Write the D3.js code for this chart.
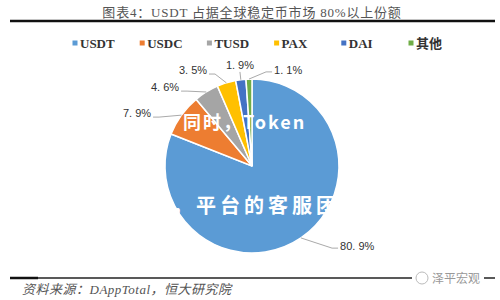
<!DOCTYPE html>
<html><head><meta charset="utf-8">
<script src="https://cdn.jsdelivr.net/npm/d3@7"></script>
<style>body{margin:0;background:#fff}svg{display:block}</style>
</head><body>
<svg id="c" width="500" height="300"></svg>
<script>
const categories = ["USDT", "USDC", "TUSD", "PAX", "DAI", "其他"];
const shares = [80.9, 7.9, 4.6, 3.5, 1.9, 1.1];
const colors = ["#5B9BD5", "#ED7D31", "#A5A5A5", "#FFC000", "#4472C4", "#70AD47"];
const titleText = "图表4：USDT 占据全球稳定币市场 80%以上份额";
const sourceText = "资料来源：DAppTotal，恒大研究院";

const svg = d3.select("#c");
const cx = 252, cy = 166, r = 87;

// title
svg.append("text").attr("x", 252).attr("y", 17).attr("text-anchor", "middle")
  .attr("font-family", "'Liberation Serif','Noto Sans CJK SC',serif").attr("font-size", 13)
  .attr("letter-spacing", 0.8).attr("fill", "#555").text(titleText);
svg.append("line").attr("x1", 10).attr("x2", 495).attr("y1", 21).attr("y2", 21)
  .attr("stroke", "#111").attr("stroke-width", 2.5);

// legend
const legendX = d3.scalePoint().domain(categories).range([75, 411]);
const lg = svg.append("g").selectAll("g").data(categories).join("g")
  .attr("transform", d => `translate(${legendX(d)},43)`);
lg.append("rect").attr("x", -2.5).attr("y", -2.5).attr("width", 5).attr("height", 5)
  .attr("fill", (d, i) => colors[i]);
lg.append("text").attr("x", 5).attr("y", 4.5).attr("font-family", "'Liberation Serif','Noto Sans CJK SC',serif")
  .attr("font-weight", "bold").attr("font-size", 13).attr("fill", "#333").text(d => d);

// pie
const pie = d3.pie().sort(null).value(d => d);
const arcs = pie(shares);
const arc = d3.arc().innerRadius(0).outerRadius(r);
const g = svg.append("g").attr("transform", `translate(${cx},${cy})`);
g.selectAll("path").data(arcs).join("path").attr("d", arc)
  .attr("fill", (d, i) => colors[i]).attr("stroke", "#fff").attr("stroke-width", 1.5);

// labels (polar layout: angle in degrees clockwise from top, radius factor)
const labelPolar = [[127.3, 1.52], [294.7, 1.455], [312.2, 1.35], [328.4, 1.295], [353.2, 1.17], [20.6, 1.18]];
const fmt = v => v.toFixed(1).replace(".", ". ") + "%";
arcs.forEach((a, i) => {
  const [deg, k] = labelPolar[i];
  const t = deg * Math.PI / 180;
  const lx = Math.sin(t) * r * k, ly = -Math.cos(t) * r * k;
  const txt = g.append("text").attr("x", lx).attr("y", ly + 4).attr("text-anchor", "middle")
    .attr("font-family", "'Liberation Sans',Arial,sans-serif").attr("font-size", 11)
    .attr("fill", "#333").text(fmt(shares[i]));
  const w = txt.node().getComputedTextLength();
  const mid = (a.startAngle + a.endAngle) / 2;
  const ex = Math.sin(mid) * r, ey = -Math.cos(mid) * r;
  let pts;
  if (Math.abs(lx) < 20) {
    pts = [[lx, ly + 7], [ex, ey]];
  } else if (lx < 0) {
    const sx = lx + w / 2 + 2;
    pts = [[sx, ly + 4], [sx + 6, ly + 4], [ex, ey]];
  } else {
    const sx = lx - w / 2 - 2;
    pts = [[sx, ly + (ly > 0 ? 2 : 2)], [sx - 6, ly + 2], [ex, ey]];
  }
  g.append("path").attr("d", d3.line()(pts)).attr("fill", "none")
    .attr("stroke", "#aaa").attr("stroke-width", 1);
});

// overlay text
svg.append("text").attr("x", 163).attr("y", 129).attr("font-family", "'Noto Sans CJK SC',sans-serif")
  .attr("font-weight", "bold").attr("font-size", 18).attr("letter-spacing", 2).attr("fill", "#fff")
  .text("，同时，Token");
svg.append("text").attr("x", 172).attr("y", 213).attr("font-family", "'Noto Sans CJK SC',sans-serif")
  .attr("font-weight", "bold").attr("font-size", 20).attr("letter-spacing", 4).attr("fill", "#fff")
  .text("，平台的客服团");

// bottom
svg.append("line").attr("x1", 10).attr("x2", 495).attr("y1", 278).attr("y2", 278)
  .attr("stroke", "#222").attr("stroke-width", 1.5);
svg.append("line").attr("x1", 10).attr("x2", 38).attr("y1", 278).attr("y2", 278)
  .attr("stroke", "#111").attr("stroke-width", 2.5);
svg.append("rect").attr("x", 412).attr("y", 270).attr("width", 72).attr("height", 16).attr("fill", "#fff");
svg.append("circle").attr("cx", 422).attr("cy", 278).attr("r", 6).attr("fill", "none")
  .attr("stroke", "#bbb").attr("stroke-width", 1);
svg.append("text").attr("x", 432).attr("y", 283).attr("font-family", "'Noto Sans CJK SC',sans-serif")
  .attr("font-size", 12).attr("fill", "#999").text("泽平宏观");
svg.append("text").attr("x", 22).attr("y", 294).attr("font-family", "'Liberation Serif','Noto Sans CJK SC',serif")
  .attr("font-style", "italic").attr("font-size", 13).attr("letter-spacing", 0.5).attr("fill", "#555").text(sourceText);
</script>
</body></html>
